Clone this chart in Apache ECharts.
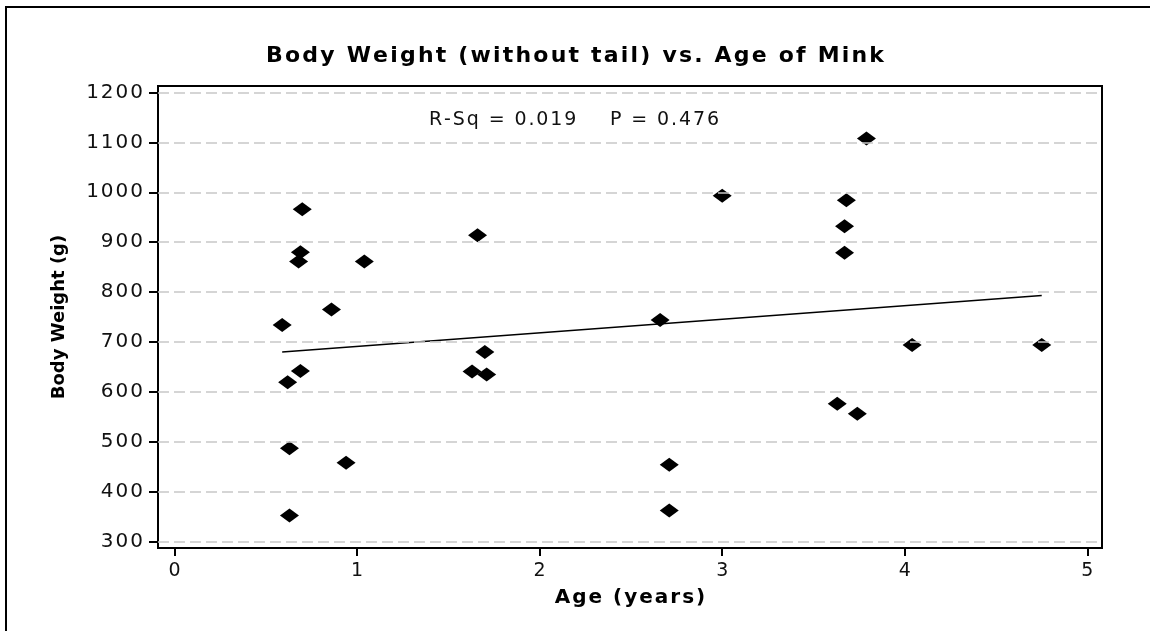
<!DOCTYPE html>
<html>
<head>
<meta charset="utf-8">
<script src="https://cdn.jsdelivr.net/npm/echarts@6/dist/echarts.min.js"></script>
<style>
  html, body { margin: 0; padding: 0; background: #fff; }
  #chart { width: 1150px; height: 631px; }
</style>
</head>
<body>
<div id="chart"></div>
<script>
// mink data
var ages = [0.70, 0.69, 0.68, 1.04, 0.86, 0.59, 0.69, 0.62, 0.63, 0.94, 0.63,
            1.66, 3.00, 2.66, 1.70, 1.63, 1.71, 2.71, 2.71,
            3.79, 3.68, 3.67, 3.67, 4.04, 4.75, 3.63, 3.74];
var weights = [966, 880, 861, 861, 765, 734, 642, 619, 487, 458, 352,
               914, 993, 744, 680, 641, 635, 454, 362,
               1108, 984, 932, 879, 694, 694, 576, 556];
// fitted line end points
var fitAges = [0.59, 4.75];
var fitWeights = [680, 793];

var xTicks = [0, 1, 2, 3, 4, 5];
var yTicks = [300, 400, 500, 600, 700, 800, 900, 1000, 1100, 1200];

var titleText = 'Body Weight (without tail) vs. Age of Mink';
var statsText = 'R-Sq = 0.019    P = 0.476';
var xName = 'Age (years)';
var yName = 'Body Weight (g)';

// spread letters out a little like the original
function spaced(s) {
  return String(s).split('').join('\u200A');
}

var points = ages.map(function (a, i) { return [a, weights[i]]; });
var fitLine = fitAges.map(function (a, i) { return [a, fitWeights[i]]; });

var font = 'DejaVu Sans';
var chart = echarts.init(document.getElementById('chart'));

chart.setOption({
  backgroundColor: '#fff',
  animation: false,
  title: [{
    text: spaced(titleText),
    left: 'center',
    top: 40,
    textStyle: { fontFamily: font, fontSize: 22, fontWeight: 'bold', color: '#000' }
  }, {
    text: spaced(statsText),
    left: 424,
    top: 106,
    textStyle: { fontFamily: font, fontSize: 19, fontWeight: 'normal', color: '#111' }
  }],
  grid: {
    left: 158, top: 86, right: 48, bottom: 83,
    show: true, borderColor: '#000', borderWidth: 2
  },
  xAxis: {
    type: 'value',
    min: -0.09,
    max: 5.08,
    name: spaced(xName),
    nameLocation: 'middle',
    nameGap: 40,
    nameTextStyle: { fontFamily: font, fontSize: 20, fontWeight: 'bold', color: '#000' },
    axisLine: { onZero: false, lineStyle: { color: '#000', width: 2 } },
    axisTick: { customValues: xTicks, length: 8, lineStyle: { color: '#000', width: 2 } },
    axisLabel: {
      customValues: xTicks, margin: 14,
      fontFamily: font, fontSize: 19, color: '#111'
    },
    splitLine: { show: false }
  },
  yAxis: {
    type: 'value',
    min: 287,
    max: 1213,
    name: yName,
    nameLocation: 'middle',
    nameGap: 90,
    nameTextStyle: { fontFamily: font, fontSize: 18, fontWeight: 'bold', color: '#000' },
    axisLine: { show: true, onZero: false, lineStyle: { color: '#000', width: 2 } },
    axisTick: { show: true, customValues: yTicks, length: 9, lineStyle: { color: '#000', width: 2 } },
    axisLabel: {
      customValues: yTicks, margin: 15,
      fontFamily: font, fontSize: 20, color: '#111',
      formatter: function (v) { return spaced(v); }
    },
    splitLine: { show: false }
  },
  series: [{
    type: 'line',
    data: fitLine,
    symbol: 'none',
    lineStyle: { color: '#000', width: 1.5 },
    markLine: {
      silent: true,
      symbol: 'none',
      label: { show: false },
      lineStyle: { color: '#c8c8c8', width: 1.5, type: [11, 5] },
      data: yTicks.map(function (v) { return { yAxis: v }; })
    },
    z: 2
  }, {
    type: 'scatter',
    data: points,
    symbol: 'diamond',
    symbolSize: [19, 14],
    itemStyle: { color: '#000', opacity: 1 },
    z: 3
  }],
  graphic: [{
    type: 'polyline',
    shape: { points: [[6, 631], [6, 7], [1150, 7]] },
    style: { stroke: '#000', lineWidth: 2, fill: null }
  }]
});
</script>
</body>
</html>
